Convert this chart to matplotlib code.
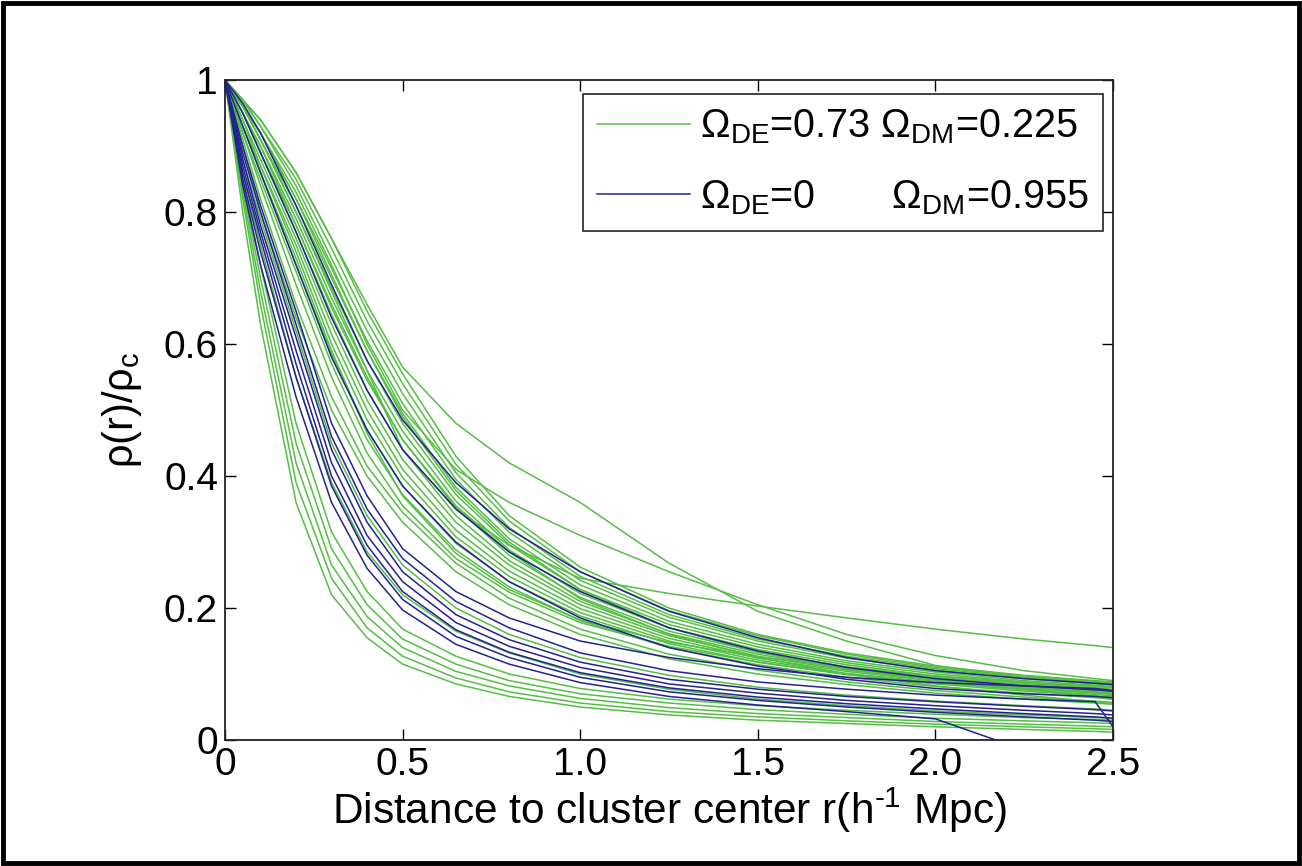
import matplotlib.pyplot as plt
from matplotlib.patches import Rectangle
from matplotlib.lines import Line2D

plt.rcParams['font.family'] = ['Liberation Sans', 'DejaVu Sans']
plt.rcParams['mathtext.fontset'] = 'custom'
plt.rcParams['mathtext.rm'] = 'Liberation Sans'
plt.rcParams['mathtext.it'] = 'Liberation Sans:italic'

# radius grid (h^-1 Mpc)
r = [0, 0.05, 0.1, 0.2, 0.3, 0.4, 0.5, 0.65, 0.8, 1.0, 1.25, 1.5, 1.75, 2.0, 2.25, 2.45, 2.5]

# Omega_DE = 0.73 profiles
green_low = [
    [1, .80, .63, .36, .22, .155, .115, .085, .066, .050, .038, .030, .025, .020, .016, .013, .012],
    [1, .82, .66, .39, .245, .170, .127, .094, .073, .056, .043, .035, .029, .024, .020, .017, .016],
    [1, .83, .68, .42, .265, .187, .140, .104, .082, .063, .049, .040, .034, .028, .024, .021, .020],
    [1, .84, .70, .45, .290, .205, .153, .115, .090, .070, .056, .046, .039, .033, .029, .026, .025],
    [1, .85, .72, .48, .315, .225, .168, .127, .100, .078, .062, .052, .045, .039, .034, .031, .030],
    [1, .86, .75, .55, .390, .285, .220, .165, .132, .100, .077, .062, .052, .044, .038, .034, .033],
    [1, .88, .79, .62, .450, .340, .265, .200, .160, .125, .098, .080, .068, .059, .052, .047, .045],
]
green_main = [
    [1, .90, .80, .64, .500, .400, .330, .255, .205, .160, .123, .100, .084, .071, .062, .056, .054],
    [1, .91, .82, .66, .520, .415, .345, .268, .215, .168, .130, .106, .088, .075, .065, .059, .057],
    [1, .92, .84, .69, .550, .435, .355, .275, .224, .178, .142, .118, .100, .087, .078, .072, .070],
    [1, .92, .85, .71, .570, .455, .372, .288, .232, .181, .140, .114, .095, .081, .071, .064, .062],
    [1, .93, .86, .72, .585, .470, .385, .298, .240, .188, .146, .118, .099, .085, .074, .067, .065],
    [1, .93, .87, .74, .600, .485, .398, .308, .248, .193, .150, .121, .101, .087, .076, .069, .067],
    [1, .94, .87, .75, .615, .500, .410, .318, .256, .199, .154, .124, .104, .089, .078, .071, .069],
    [1, .94, .88, .76, .630, .515, .425, .330, .265, .205, .158, .127, .106, .091, .080, .073, .071],
    [1, .95, .89, .77, .645, .530, .440, .340, .272, .210, .161, .130, .108, .093, .082, .075, .073],
    [1, .95, .89, .78, .655, .545, .455, .352, .280, .216, .165, .133, .111, .095, .084, .077, .075],
    [1, .95, .90, .79, .670, .560, .468, .362, .288, .222, .170, .137, .114, .097, .086, .079, .077],
    [1, .96, .91, .80, .685, .575, .480, .372, .296, .228, .175, .141, .117, .100, .088, .081, .079],
    [1, .96, .91, .81, .700, .590, .495, .383, .305, .235, .180, .145, .120, .103, .090, .083, .081],
    [1, .96, .92, .82, .715, .605, .510, .395, .315, .242, .186, .150, .124, .106, .093, .085, .083],
    [1, .96, .92, .82, .705, .590, .490, .378, .300, .228, .170, .133, .108, .091, .077, .066, .062],
    [1, .97, .93, .84, .730, .620, .525, .405, .322, .248, .190, .153, .127, .108, .095, .087, .085],
    [1, .97, .93, .85, .745, .635, .540, .418, .332, .255, .196, .158, .130, .110, .097, .089, .087],
    [1, .97, .94, .86, .760, .650, .555, .430, .340, .262, .200, .160, .132, .112, .098, .090, .088],
    [1, .93, .86, .73, .590, .465, .370, .283, .228, .182, .148, .126, .110, .097, .087, .081, .080],
    [1, .95, .90, .78, .660, .550, .455, .355, .285, .214, .160, .125, .100, .082, .068, .058, .055],
]
green_high = [
    [1, .96, .91, .80, .680, .560, .440, .350, .295, .245, .222, .203, .185, .168, .153, .143, .140],
    [1, .96, .92, .83, .720, .600, .500, .410, .360, .310, .255, .205, .160, .128, .105, .093, .090],
    [1, .97, .94, .86, .760, .660, .565, .480, .420, .360, .268, .195, .150, .113, .094, .087, .085],
]

# Omega_DE = 0 profiles
blue_low = [
    [1, .84, .72, .52, .36, .26, .197, .145, .115, .087, .066, .053, .043, .032, -.015, -.05, -.06],
    [1, .85, .74, .55, .385, .28, .213, .157, .125, .095, .073, .060, .050, .042, .035, .030, .028],
    [1, .86, .76, .57, .40, .295, .225, .167, .133, .102, .079, .065, .055, .047, .040, .035, .033],
    [1, .87, .77, .59, .42, .31, .240, .178, .142, .110, .085, .071, .060, .052, .045, .040, .038],
    [1, .88, .78, .61, .44, .33, .255, .190, .152, .118, .092, .077, .066, .058, .051, .046, .044],
    [1, .89, .80, .63, .46, .35, .275, .210, .170, .132, .105, .088, .077, .068, .062, .058, .020],
    [1, .90, .81, .65, .48, .37, .290, .225, .185, .150, .125, .108, .095, .087, .082, .078, .075],
]
blue_high = [
    [1, .965, .92, .81, .69, .575, .485, .390, .320, .255, .195, .155, .125, .105, .093, .086, .084],
    [1, .95, .89, .77, .64, .53, .440, .350, .285, .225, .170, .135, .110, .093, .082, .076, .074],
    [1, .93, .86, .72, .58, .47, .385, .300, .240, .185, .140, .112, .092, .078, .070, .066, .064],
]

green = '#55be45'
blue = '#23238f'

fig = plt.figure(figsize=(13.02, 8.66), dpi=100)
ax = fig.add_axes([0.1728, 0.1455, 0.682, 0.762])

for curve in green_low + green_main + green_high:
    ax.plot(r, curve, color=green, linewidth=1.1)
for curve in blue_low + blue_high:
    ax.plot(r, curve, color=blue, linewidth=1.1)

ax.set_xlim(0, 2.5)
ax.set_ylim(0, 1)
ax.set_xticks([0, 0.5, 1.0, 1.5, 2.0, 2.5])
ax.set_xticklabels(['0', '0.5', '1.0', '1.5', '2.0', '2.5'])
ax.set_yticks([0, 0.2, 0.4, 0.6, 0.8, 1.0])
ax.set_yticklabels(['0', '0.2', '0.4', '0.6', '0.8', '1'])
ax.tick_params(direction='in', length=8, width=1, top=True, right=True,
               labelsize=28, pad=5)
for s in ax.spines.values():
    s.set_linewidth(1.3)
    s.set_color('#222222')

ax.set_xlabel(r'Distance to cluster center r(h$^{\text{-1}}$ Mpc)', fontsize=30.5, labelpad=2)
ax.set_ylabel(r'ρ(r)/ρ$_{\rm c}$', fontsize=30, labelpad=14)

handles = [Line2D([], [], color=green, linewidth=1.1),
           Line2D([], [], color=blue, linewidth=1.1)]
labels = [r'Ω$_{\rm DE}$=0.73 Ω$_{\rm DM}$=0.225',
          r'Ω$_{\rm DE}$=0       Ω$_{\rm DM}$=0.955']
leg = ax.legend(handles, labels, loc='upper right', bbox_to_anchor=(0.9887, 0.979),
                borderaxespad=0, fontsize=28.5, fancybox=False, framealpha=1,
                edgecolor='#222222', handlelength=2.35, handletextpad=0.25,
                labelspacing=0.8, borderpad=0.35)
leg.get_frame().set_linewidth(1.2)

fig.patches.append(Rectangle((0.002, 0.003), 0.996, 0.994, transform=fig.transFigure,
                             fill=False, edgecolor='black', linewidth=3.5))

fig.savefig('out.png', dpi=100)
